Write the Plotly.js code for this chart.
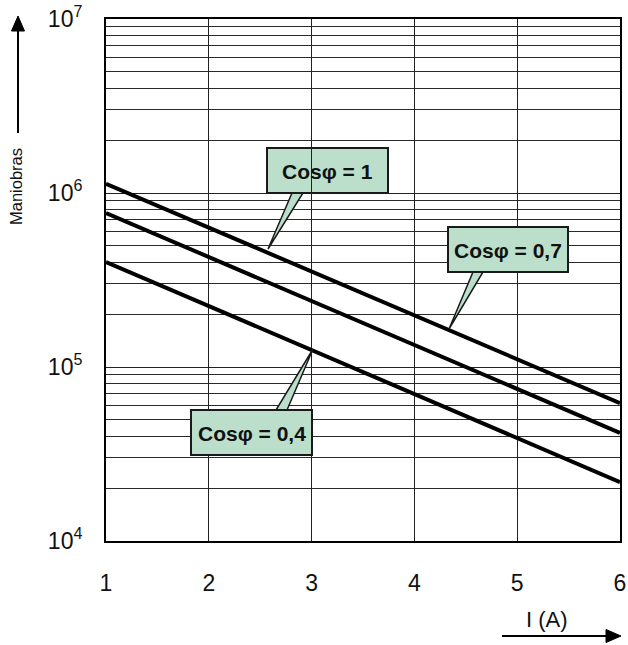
<!DOCTYPE html>
<html>
<head>
<meta charset="utf-8">
<script src="https://cdn.plot.ly/plotly-3.0.1.min.js"></script>
<style>html,body{margin:0;padding:0;background:#fff;}#chart{width:628px;height:645px;}</style>
</head>
<body>
<div id="chart"></div>
<script>
// Data (log-linear straight lines: endpoints)
const currentA = [1, 6];
const cos1 = [1.13e6, 6.2e4];
const cos07 = [7.67e5, 4.18e4];
const cos04 = [4.01e5, 2.18e4];
const seriesNames = ['Cosφ = 1', 'Cosφ = 0,7', 'Cosφ = 0,4'];
const xTicks = [1, 2, 3, 4, 5, 6];
const decadeExps = [4, 5, 6, 7];
const minorMultipliers = [2, 3, 4, 5, 6, 7, 8, 9];

const yTickVals = decadeExps.map(d => Math.pow(10, d));
const yTickText = decadeExps.map(d => '10<sup>' + d + '</sup>');
const yMinorVals = [];
decadeExps.slice(0, -1).forEach(d => minorMultipliers.forEach(m => yMinorVals.push(m * Math.pow(10, d))));

const L = 106, R = 620, T = 19, B = 541;
const W = R - L, H = B - T;
function px(x) { return (x - L) / W; }
function py(y) { return (B - y) / H; }
function path(pts, close) {
  return 'M' + pts.map(p => px(p[0]) + ',' + py(p[1])).join(' L') + (close ? ' Z' : '');
}

const FONT = 'Arial, Liberation Sans, Helvetica, sans-serif';
const lineStyle = {color: '#000', width: 4};
const traces = [cos1, cos07, cos04].map((ys, i) => ({
  x: currentA, y: ys, type: 'scatter', mode: 'lines', name: seriesNames[i],
  line: lineStyle, hoverinfo: 'skip'
}));

const fillC = '#bbdfca', edgeC = '#1a1a1a';
const callouts = [
  {box: [267, 148, 388, 193], wedge: [[292, 193], [303, 193], [268, 249]], text: seriesNames[0], layer: 'below'},
  {box: [448, 227, 568, 272], wedge: [[473, 272], [483, 272], [449, 329]], text: seriesNames[1], layer: 'above'},
  {box: [191, 410, 312, 455], wedge: [[276, 410], [287, 410], [313, 349]], text: seriesNames[2], layer: 'above'}
];
const shapes = [], annotations = [];
callouts.forEach(c => {
  shapes.push({type: 'path', xref: 'paper', yref: 'paper', path: path(c.wedge, true),
    fillcolor: fillC, line: {color: edgeC, width: 1.5}, layer: 'above'});
  shapes.push({type: 'rect', xref: 'paper', yref: 'paper', layer: c.layer,
    x0: px(c.box[0]), x1: px(c.box[2]), y0: py(c.box[3]), y1: py(c.box[1]),
    fillcolor: fillC, line: {color: edgeC, width: 2}});
  annotations.push({xref: 'paper', yref: 'paper', showarrow: false,
    x: px((c.box[0] + c.box[2]) / 2), y: py((c.box[1] + c.box[3]) / 2 + 1),
    xanchor: 'center', yanchor: 'middle',
    text: '<b>' + c.text + '</b>', font: {family: FONT, size: 21, color: '#111'}});
});
shapes.push({type: 'line', xref: 'paper', yref: 'paper', layer: 'above',
  x0: px(267), x1: px(388), y0: py(193), y1: py(193), line: {color: edgeC, width: 2}});

// axis direction arrows (decoration)
shapes.push({type: 'path', xref: 'paper', yref: 'paper', path: path([[18, 133], [18, 30]], false),
  line: {color: '#000', width: 2}});
shapes.push({type: 'path', xref: 'paper', yref: 'paper', path: path([[11.5, 31], [24.5, 31], [18, 16]], true),
  fillcolor: '#000', line: {color: '#000', width: 1}});
shapes.push({type: 'path', xref: 'paper', yref: 'paper', path: path([[502, 636], [608, 636]], false),
  line: {color: '#000', width: 2}});
shapes.push({type: 'path', xref: 'paper', yref: 'paper', path: path([[606, 629.5], [606, 642.5], [621, 636]], true),
  fillcolor: '#000', line: {color: '#000', width: 1}});

annotations.push({xref: 'paper', yref: 'paper', showarrow: false, text: 'Maniobras',
  x: px(16), y: py(187), textangle: -90, xanchor: 'center', yanchor: 'middle',
  font: {family: FONT, size: 16.5, color: '#111'}});
annotations.push({xref: 'paper', yref: 'paper', showarrow: false, text: 'I (A)',
  x: px(547), y: py(619), xanchor: 'center', yanchor: 'middle',
  font: {family: FONT, size: 22, color: '#111'}});

const layout = {
  width: 628, height: 645,
  margin: {l: L, r: 628 - R, t: T, b: 645 - B, pad: 0},
  paper_bgcolor: '#fff', plot_bgcolor: '#fff',
  showlegend: false,
  font: {family: FONT, color: '#111'},
  xaxis: {
    type: 'linear', range: [1, 6], tickvals: xTicks, ticktext: xTicks.map(String),
    showgrid: true, gridcolor: '#222', gridwidth: 1,
    showline: true, linecolor: '#000', linewidth: 2, mirror: true,
    ticks: '', ticklabelstandoff: 20, zeroline: false,
    tickfont: {family: FONT, size: 23, color: '#111'}
  },
  yaxis: {
    type: 'log', range: [4, 7], tickvals: yTickVals, ticktext: yTickText,
    showgrid: true, gridcolor: '#222', gridwidth: 1,
    minor: {tickmode: 'array', tickvals: yMinorVals, showgrid: true, gridcolor: '#2a2a2a', gridwidth: 1, ticks: ''},
    showline: true, linecolor: '#000', linewidth: 2, mirror: true,
    ticks: '', ticklabelstandoff: 17, zeroline: false,
    tickfont: {family: FONT, size: 23, color: '#111'}
  },
  shapes: shapes,
  annotations: annotations
};

Plotly.newPlot('chart', traces, layout, {staticPlot: true, displayModeBar: false});
</script>
</body>
</html>
